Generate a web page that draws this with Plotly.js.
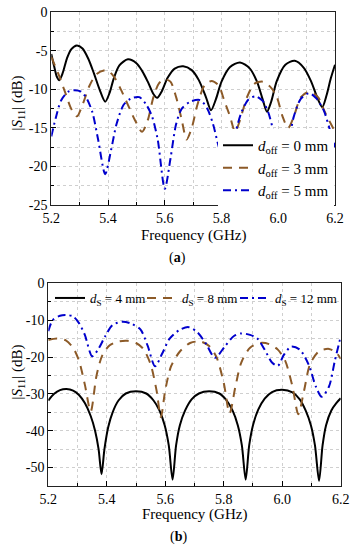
<!DOCTYPE html>
<html>
<head>
<meta charset="utf-8">
<script src="https://cdn.plot.ly/plotly-3.0.1.min.js"></script>
<style>html,body{margin:0;padding:0;background:#fff;}#chart{width:356px;height:550px;}</style>
</head>
<body>
<div id="chart"></div>
<script>
// ---------- Panel (a): d_off ----------
const freqOff0 = [5.200,5.210,5.220,5.228,5.240,5.255,5.270,5.290,5.310,5.330,5.350,5.370,5.390,5.405,5.420,5.440,5.470,5.500,5.520,5.540,5.560,5.573,5.590,5.610,5.635,5.665,5.695,5.720,5.745,5.763,5.780,5.800,5.830,5.865,5.900,5.925,5.945,5.960,5.975,5.995,6.025,6.058,6.090,6.115,6.140,6.155,6.170,6.185,6.200];
const s11Off0 = [-5.4,-7.0,-8.4,-8.8,-7.9,-6.0,-4.8,-4.3,-4.7,-6.0,-7.9,-10.0,-11.6,-10.5,-8.6,-6.9,-6.1,-6.6,-7.6,-9.0,-10.6,-11.1,-10.2,-8.5,-7.3,-7.0,-7.5,-8.8,-11.0,-12.7,-11.3,-9.0,-7.1,-6.5,-7.3,-9.0,-11.3,-12.9,-11.6,-8.9,-6.8,-6.3,-7.2,-8.9,-11.3,-12.3,-10.8,-8.6,-6.8];

const freqOff3 = [5.200,5.225,5.250,5.270,5.290,5.310,5.335,5.360,5.395,5.420,5.445,5.470,5.495,5.520,5.540,5.560,5.580,5.600,5.620,5.640,5.660,5.677,5.695,5.715,5.740,5.765,5.790,5.810,5.830,5.848,5.865,5.890,5.915,5.945,5.975,5.995,6.015,6.035,6.055,6.080,6.110,6.140,6.165,6.200];
const s11Off3 = [-5.8,-8.0,-10.5,-12.5,-13.5,-12.0,-9.5,-8.0,-7.5,-8.3,-10.0,-12.0,-14.0,-15.5,-14.0,-11.0,-9.2,-8.7,-9.0,-11.0,-14.0,-16.5,-15.0,-12.0,-9.5,-8.9,-9.5,-11.5,-13.5,-15.5,-14.0,-11.0,-9.3,-9.0,-9.8,-11.0,-13.5,-15.0,-13.5,-11.0,-10.3,-11.0,-13.0,-15.5];

const freqOff5 = [5.200,5.215,5.235,5.260,5.280,5.305,5.325,5.345,5.365,5.390,5.410,5.430,5.455,5.480,5.510,5.535,5.555,5.575,5.600,5.620,5.640,5.660,5.690,5.725,5.750,5.770,5.790,5.815,5.835,5.850,5.870,5.895,5.920,5.945,5.965,5.985,6.010,6.035,6.055,6.080,6.110,6.135,6.160,6.180,6.200];
const s11Off5 = [-16.1,-13.8,-11.4,-10.3,-10.1,-10.3,-11.2,-13.0,-16.5,-21.0,-18.0,-14.5,-12.0,-11.2,-11.0,-12.0,-13.5,-16.5,-22.9,-19.0,-14.5,-12.5,-11.6,-11.4,-12.5,-14.5,-17.4,-20.0,-18.0,-15.5,-13.0,-11.3,-10.9,-11.5,-13.0,-15.7,-19.0,-17.0,-13.5,-11.2,-10.5,-11.2,-12.7,-15.0,-17.5];

// ---------- Panel (b): d_S ----------
const freqS4 = [5.200,5.220,5.240,5.262,5.285,5.305,5.325,5.345,5.360,5.372,5.382,5.392,5.405,5.420,5.440,5.465,5.500,5.535,5.560,5.580,5.598,5.612,5.625,5.637,5.650,5.668,5.690,5.715,5.750,5.785,5.810,5.830,5.848,5.862,5.875,5.887,5.900,5.918,5.940,5.965,6.000,6.035,6.060,6.080,6.098,6.112,6.126,6.138,6.150,6.168,6.185,6.200];
const s11S4 = [-31.8,-30.0,-29.0,-28.7,-29.1,-30.3,-32.5,-36.0,-40.0,-45.0,-51.8,-45.0,-39.0,-35.0,-31.8,-29.9,-29.3,-29.9,-31.8,-34.5,-38.5,-44.0,-53.3,-44.0,-38.5,-34.5,-31.5,-29.9,-29.3,-29.9,-31.8,-34.5,-38.5,-44.0,-53.3,-44.0,-38.5,-34.3,-31.3,-29.5,-28.9,-29.6,-31.5,-34.5,-38.5,-44.0,-53.6,-44.0,-38.5,-34.5,-32.5,-31.2];

const freqS8 = [5.200,5.230,5.260,5.285,5.305,5.325,5.345,5.365,5.385,5.410,5.440,5.470,5.500,5.525,5.550,5.570,5.585,5.600,5.620,5.650,5.685,5.720,5.750,5.775,5.800,5.820,5.840,5.860,5.890,5.925,5.955,5.985,6.010,6.035,6.055,6.075,6.095,6.125,6.160,6.185,6.200];
const s11S8 = [-15.4,-15.0,-15.5,-17.5,-21.0,-27.5,-34.8,-25.0,-19.5,-16.8,-15.8,-15.6,-16.2,-17.8,-22.0,-29.0,-36.3,-29.0,-22.5,-18.5,-16.2,-15.8,-17.0,-20.0,-27.0,-35.3,-28.0,-21.5,-17.5,-16.2,-16.5,-18.0,-21.0,-28.0,-35.5,-29.0,-22.0,-18.5,-17.8,-18.8,-20.5];

const freqS12 = [5.200,5.215,5.240,5.260,5.285,5.305,5.325,5.350,5.370,5.395,5.420,5.455,5.485,5.515,5.540,5.565,5.590,5.615,5.650,5.680,5.710,5.740,5.770,5.805,5.835,5.860,5.890,5.915,5.940,5.965,5.985,6.005,6.030,6.060,6.090,6.115,6.135,6.160,6.180,6.200];
const s11S12 = [-13.0,-10.0,-8.8,-8.6,-9.0,-10.8,-14.0,-19.8,-18.0,-14.3,-11.3,-10.4,-11.0,-12.5,-17.0,-22.5,-19.0,-15.0,-12.6,-11.9,-13.3,-16.5,-20.2,-17.0,-14.3,-13.6,-14.0,-15.0,-18.0,-21.5,-22.4,-19.5,-17.2,-18.0,-22.0,-28.0,-30.8,-28.0,-21.0,-14.5];

// ---------- Tick labels ----------
const xTickVals = [5.2,5.4,5.6,5.8,6.0,6.2];
const xTickText = ['5.2','5.4','5.6','5.8','6.0','6.2'];
const yTickValsA = [0,-5,-10,-15,-20,-25];
const yTickTextA = ['0','-5','-10','-15','-20','-25'];
const yTickValsB = [0,-10,-20,-30,-40,-50];
const yTickTextB = ['0','-10','-20','-30','-40','-50'];

const namesA = ['<i>d</i><sub>off</sub> = 0 mm','<i>d</i><sub>off</sub> = 3 mm','<i>d</i><sub>off</sub> = 5 mm'];
const namesB = ['<i>d</i><sub>S</sub> = 4 mm','<i>d</i><sub>S</sub> = 8 mm','<i>d</i><sub>S</sub> = 12 mm'];

const BLACK = '#000000', BROWN = '#8c5a28', BLUE = '#0000cc';
const DASH = '9px,7px', DASHDOT = '8px,4px,2px,4px';
const FONT = 'Liberation Serif, Times New Roman, serif';

function tr(x, y, name, color, dash, xa, ya, leg) {
  return {x: x, y: y, name: name, type: 'scatter', mode: 'lines', xaxis: xa, yaxis: ya, legend: leg,
          line: {color: color, width: 2, dash: dash, shape: 'spline', smoothing: 0.8}};
}

const data = [
  tr(freqOff0, s11Off0, namesA[0], BLACK, 'solid', 'x', 'y', 'legend'),
  tr(freqOff3, s11Off3, namesA[1], BROWN, DASH, 'x', 'y', 'legend'),
  tr(freqOff5, s11Off5, namesA[2], BLUE, DASHDOT, 'x', 'y', 'legend'),
  tr(freqS4, s11S4, namesB[0], BLACK, 'solid', 'x2', 'y2', 'legend2'),
  tr(freqS8, s11S8, namesB[1], BROWN, DASH, 'x2', 'y2', 'legend3'),
  tr(freqS12, s11S12, namesB[2], BLUE, DASHDOT, 'x2', 'y2', 'legend4')
];

const W = 356, H = 550;
const boxA = {l: 51.3, r: 335, t: 12.3, b: 205};
const boxB = {l: 48.3, r: 340.7, t: 283.3, b: 486};

function xax(box, anchor) {
  return {domain: [box.l / W, box.r / W], range: [5.2, 6.2], anchor: anchor,
    tickvals: xTickVals, ticktext: xTickText, ticks: 'inside', ticklen: 5, tickcolor: '#000',
    showline: true, linecolor: '#222', linewidth: 1, mirror: true, zeroline: false,
    showgrid: true, gridcolor: '#cfcfcf', griddash: 'dot', gridwidth: 1,
    minor: {dtick: 0.1, ticks: 'inside', ticklen: 3, tickcolor: '#000', showgrid: true, gridcolor: '#cfcfcf', griddash: 'dot'},
    tickfont: {family: FONT, size: 14, color: '#000'}, fixedrange: true};
}
function yax(box, anchor, rng, tv, tt, minorDt) {
  return {domain: [1 - box.b / H, 1 - box.t / H], range: rng, anchor: anchor,
    tickvals: tv, ticktext: tt, ticks: 'inside', ticklen: 5, tickcolor: '#000',
    showline: true, linecolor: '#222', linewidth: 1, mirror: true, zeroline: false,
    showgrid: true, gridcolor: '#cfcfcf', griddash: 'dot', gridwidth: 1,
    minor: {dtick: minorDt, ticks: 'inside', ticklen: 3, tickcolor: '#000', showgrid: true, gridcolor: '#cfcfcf', griddash: 'dot'},
    tickfont: {family: FONT, size: 14, color: '#000'}, fixedrange: true};
}

function ann(text, px, py, size, angle) {
  return {text: text, x: px / W, y: 1 - py / H, xref: 'paper', yref: 'paper', xanchor: 'center', yanchor: 'middle',
          showarrow: false, textangle: angle || 0, font: {size: size}};
}

function legB(px) {
  return {orientation: 'h', x: px / W, y: 1 - 283 / H, xanchor: 'left', yanchor: 'top', bgcolor: 'rgba(255,255,255,0)',
          font: {family: FONT, size: 13, color: '#000'}, itemwidth: 30};
}

const layout = {
  width: W, height: H, margin: {l: 0, r: 0, t: 0, b: 0},
  paper_bgcolor: '#fff', plot_bgcolor: '#fff',
  font: {family: FONT, size: 14, color: '#000'},
  xaxis: xax(boxA, 'y'),
  yaxis: yax(boxA, 'x', [-25, 0], yTickValsA, yTickTextA, 2.5),
  xaxis2: xax(boxB, 'y2'),
  yaxis2: yax(boxB, 'x2', [-55, 0], yTickValsB, yTickTextB, 5),
  legend: {x: 218 / W, y: 1 - 129 / H, xanchor: 'left', yanchor: 'top', bgcolor: '#fff',
           font: {family: FONT, size: 15, color: '#000'}, tracegroupgap: 0, itemwidth: 30},
  legend2: legB(50),
  legend3: legB(142),
  legend4: legB(235),
  showlegend: true,
  annotations: [
    ann('|<i>S</i><sub>11</sub>| (dB)', 17.5, 103, 15, -90),
    ann('|<i>S</i><sub>11</sub>| (dB)', 17.5, 372, 15, -90),
    ann('Frequency (GHz)', 193, 235, 15),
    ann('Frequency (GHz)', 194, 514, 15),
    ann('(<b>a</b>)', 177, 258, 14),
    ann('(<b>b</b>)', 178, 537, 14)
  ]
};

Plotly.newPlot('chart', data, layout, {staticPlot: true, displayModeBar: false});
</script>
</body>
</html>
